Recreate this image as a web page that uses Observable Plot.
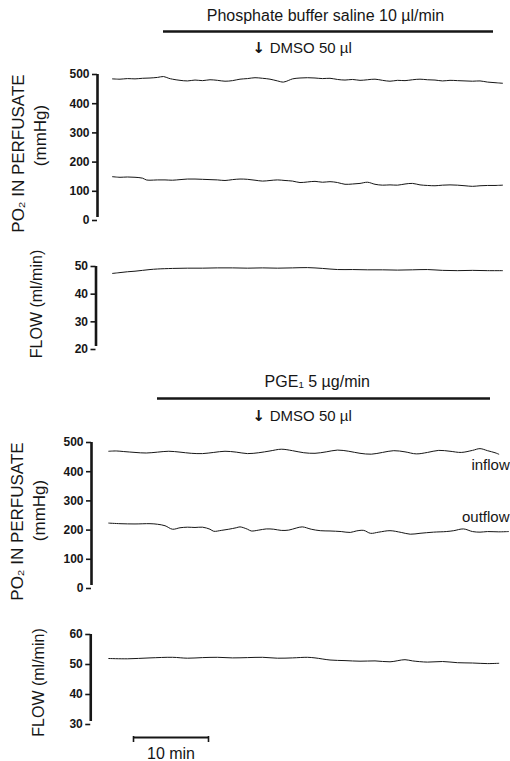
<!DOCTYPE html>
<html><head><meta charset="utf-8">
<script src="https://cdn.jsdelivr.net/npm/d3@7"></script>
<script src="https://cdn.jsdelivr.net/npm/@observablehq/plot@0.6"></script>
<style>
body{margin:0;background:#fff;}
#fig{width:510px;height:761px;font-family:"Liberation Sans",Arial,sans-serif;}
#fig svg{display:block;overflow:visible}
</style></head><body><div id="fig"></div>
<script>
// ---- data: [time (min), value] ----
const poTicks = [0, 100, 200, 300, 400, 500];
const flowTicksTop = [20, 30, 40, 50];
const flowTicksBottom = [30, 40, 50, 60];

const topInflow = [[2,485],[3,484],[4,486],[5,485],[6,487],[7,488],[8,490],[8.8,493],[9.5,487],[10,484],[11,480],[12,478],[13,481],[14,479],[15,482],[16,480],[17,477],[18,479],[19,484],[20,486],[21,489],[22,487],[23,484],[24,478],[24.8,474],[25.5,480],[26,485],[27,488],[28,489],[29,488],[30,486],[31,487],[32,483],[33,481],[34,483],[35,480],[36,482],[37,484],[38,480],[39,477],[40,480],[41,479],[42,482],[43,484],[44,482],[45,481],[46,478],[47,480],[48,479],[49,478],[50,477],[51,478],[52,474],[53,472],[54,470]];
const topOutflow = [[2,150],[3,148],[4,149],[5,148],[6,145],[6.5,139],[7,138],[8,139],[9,139],[10,138],[11,140],[12,142],[13,142],[14,141],[15,140],[16,139],[17,137],[18,140],[19,142],[20,141],[21,138],[22,135],[23,137],[24,139],[25,137],[26,135],[27,130],[28,132],[29,134],[30,131],[31,133],[32,130],[33,124],[34,125],[35,127],[36,131],[37,124],[38,121],[39,122],[40,121],[41,125],[42,127],[43,122],[44,120],[45,119],[46,121],[47,122],[48,121],[49,119],[50,117],[51,119],[52,120],[53,120],[54,121]];
const topFlow = [[2,47.5],[3,47.8],[4,48.1],[5,48.3],[6,48.6],[7,48.9],[8,49.1],[10,49.3],[12,49.4],[14,49.4],[16,49.5],[18,49.5],[20,49.4],[22,49.5],[24,49.4],[26,49.5],[28,49.6],[30,49.3],[32,48.9],[34,48.9],[36,48.8],[38,48.8],[40,48.7],[42,48.8],[44,48.9],[46,48.6],[48,48.5],[50,48.6],[52,48.5],[54,48.5]];

const bottomInflow = [[1.5,470],[2.5,471],[3.5,469],[5,466],[6.5,464],[8,467],[9.5,470],[11,467],[12.5,463],[14,462],[15.5,466],[17,470],[18.5,467],[20,462],[21.5,465],[23,471],[24.5,477],[26,472],[27.5,465],[29,463],[30.5,468],[32,474],[33.5,470],[35,463],[36.5,460],[38,466],[39.5,472],[41,468],[42.5,461],[44,466],[45.5,473],[47,470],[48.5,466],[50,473],[51,479],[52,472],[53,465],[53.5,460]];
const bottomOutflow = [[1.5,224],[3,222],[5,221],[7,222],[8,220],[9,215],[10,203],[11,208],[12,210],[13,209],[14,210],[15,203],[15.5,196],[16.5,199],[17.5,203],[18.5,208],[19,211],[20,203],[20.5,197],[21.5,200],[22.5,204],[23.5,203],[24.5,199],[25.5,200],[26.5,207],[27.3,211],[28.5,203],[29.7,198],[31,197],[32.5,195],[33.7,192],[34.5,197],[35.5,199],[36.4,189],[37.5,193],[39,198],[40.5,192],[41.7,186],[43,189],[44.8,193],[46.5,195],[47.5,198],[48.8,204],[50,195],[51,193],[52,195],[53.5,194],[54.8,195]];
const bottomFlow = [[1.5,52.0],[4,51.9],[7,52.2],[10,52.4],[12,52.1],[14,52.3],[16,52.4],[18,52.2],[20,52.3],[22,52.4],[24,52.1],[26,52.2],[28,52.4],[29,52.2],[31,51.5],[33,51.3],[35,51.1],[37,51.2],[39,50.9],[41,51.6],[42,51.2],[44,50.8],[46,51.0],[48,50.6],[50,50.5],[52,50.3],[53.5,50.4]];

// annotations (times in min)
const topInfusion = {label: "Phosphate buffer saline 10 \u00b5l/min", start: 8.8, end: 52.8, labelAt: 30.4};
const bottomInfusion = {label: "PGE\u2081 5 \u00b5g/min", start: 8, end: 52.4, labelAt: 29.3};
const bolus = {label: "DMSO 50 \u00b5l", at: 21.5};
const scaleBar = {start: 4.8, length: 10, label: "10 min"};
const seriesLabels = ["inflow", "outflow"];

const PX_PER_MIN = 7.5, X0 = 97, T_END = 55, W = 510;
const ink = "#161616";
const fig = document.getElementById("fig");

function panel({axisT, yDomain, ticks, height, marginTop, marginBottom, marks, titles}) {
  const marginLeft = X0 + PX_PER_MIN * axisT;
  const marginRight = W - (X0 + PX_PER_MIN * T_END);
  const [yMin, yMax] = yDomain;
  return Plot.plot({
    width: W, height, marginLeft, marginRight, marginTop, marginBottom,
    style: {fontFamily: '"Liberation Sans", Arial, sans-serif', color: ink, background: "white", overflow: "visible"},
    x: {domain: [axisT, T_END], axis: null},
    y: {domain: yDomain},
    marks: [
      Plot.axisY({ticks, tickSize: 5, tickPadding: 3, fontSize: 12, fontWeight: "bold", strokeWidth: 1.6, label: null, stroke: ink, fill: ink}),
      Plot.ruleX([axisT], {y1: yMin, y2: yMax, strokeWidth: 2.6, stroke: ink, insetTop: -3}),
      ...titles.map(t => Plot.text([t.text], {frameAnchor: "left", textAnchor: "middle", rotate: -90, dx: t.dx, dy: t.dy, fontSize: t.size, fill: ink, letterSpacing: t.ls})),
      ...marks(yMin, yMax)
    ]
  });
}

const lineOpts = {x: d => d[0], y: d => d[1], stroke: ink, strokeWidth: 1, curve: "catmull-rom"};
const annText = {fontSize: 16, fill: ink, letterSpacing: "1.5px"};

function infusionMarks(info, yMax, dyLabel, dyBar, dyBolus) {
  return [
    Plot.text([info.label], {x: info.labelAt, y: yMax, dy: dyLabel, ...annText}),
    Plot.ruleY([yMax], {x1: info.start, x2: info.end, dy: dyBar, strokeWidth: 2.6, stroke: ink}),
    Plot.text(["\u2193"], {x: bolus.at, y: yMax, dy: dyBolus, fontSize: 15, fontWeight: "bold", fill: ink, fontFamily: "DejaVu Sans"}),
    Plot.text([bolus.label], {x: bolus.at, y: yMax, dy: dyBolus, dx: 11, textAnchor: "start", fontSize: 15, fill: ink, letterSpacing: "0.8px"})
  ];
}

const poTitle = {size: 17, ls: "1px"};
const flowTitle = {size: 16, ls: "0.6px"};

// Panel 1: PO2 top
fig.append(panel({
  axisT: 0, yDomain: [0, 500], ticks: poTicks, height: 240, marginTop: 74, marginBottom: 20,
  titles: [{text: "PO\u2082 IN PERFUSATE", dx: -79, dy: 6, ...poTitle}, {text: "(mmHg)", dx: -57, dy: -12, ...poTitle}],
  marks: (yMin, yMax) => [
    ...infusionMarks(topInfusion, yMax, -59, -43, -26),
    Plot.line(topInflow, lineOpts),
    Plot.line(topOutflow, lineOpts)
  ]
}));

// Panel 2: flow top
fig.append(panel({
  axisT: -0.2, yDomain: [20, 50], ticks: flowTicksTop, height: 120, marginTop: 26, marginBottom: 11,
  titles: [{text: "FLOW (ml/min)", dx: -59, dy: -4, ...flowTitle}],
  marks: () => [Plot.line(topFlow, lineOpts)]
}));

// Panel 3: PO2 bottom
fig.append(panel({
  axisT: -0.8, yDomain: [0, 500], ticks: poTicks, height: 240, marginTop: 82, marginBottom: 12,
  titles: [{text: "PO\u2082 IN PERFUSATE", dx: -74, dy: 6, ...poTitle}, {text: "(mmHg)", dx: -52, dy: -5, ...poTitle}],
  marks: (yMin, yMax) => [
    ...infusionMarks(bottomInfusion, yMax, -61, -44, -26),
    Plot.line(bottomInflow, lineOpts),
    Plot.line(bottomOutflow, lineOpts),
    Plot.text([bottomInflow[bottomInflow.length - 1]], {x: d => d[0], y: d => d[1], text: () => seriesLabels[0], textAnchor: "end", dx: 11, dy: 11, fontSize: 15, fill: ink, letterSpacing: "0.8px"}),
    Plot.text([bottomOutflow[bottomOutflow.length - 1]], {x: d => d[0], y: d => d[1], text: () => seriesLabels[1], textAnchor: "end", dx: 1, dy: -14, fontSize: 15, fill: ink, letterSpacing: "0.8px"})
  ]
}));

// Panel 4: flow bottom
fig.append(panel({
  axisT: -0.9, yDomain: [30, 60], ticks: flowTicksBottom, height: 161, marginTop: 34, marginBottom: 37,
  titles: [{text: "FLOW (ml/min)", dx: -52, dy: 3, ...flowTitle}],
  marks: (yMin) => [
    Plot.line(bottomFlow, lineOpts),
    Plot.ruleY([yMin], {x1: scaleBar.start, x2: scaleBar.start + scaleBar.length, dy: 13, strokeWidth: 2, stroke: ink}),
    Plot.ruleX([scaleBar.start, scaleBar.start + scaleBar.length], {y1: yMin, y2: yMin, dy: 12, insetBottom: -6, strokeWidth: 1.6, stroke: ink}),
    Plot.text([scaleBar.label], {x: scaleBar.start + scaleBar.length / 2, y: yMin, dy: 29, fontSize: 16, fill: ink, letterSpacing: "1px"})
  ]
}));
</script></body></html>
